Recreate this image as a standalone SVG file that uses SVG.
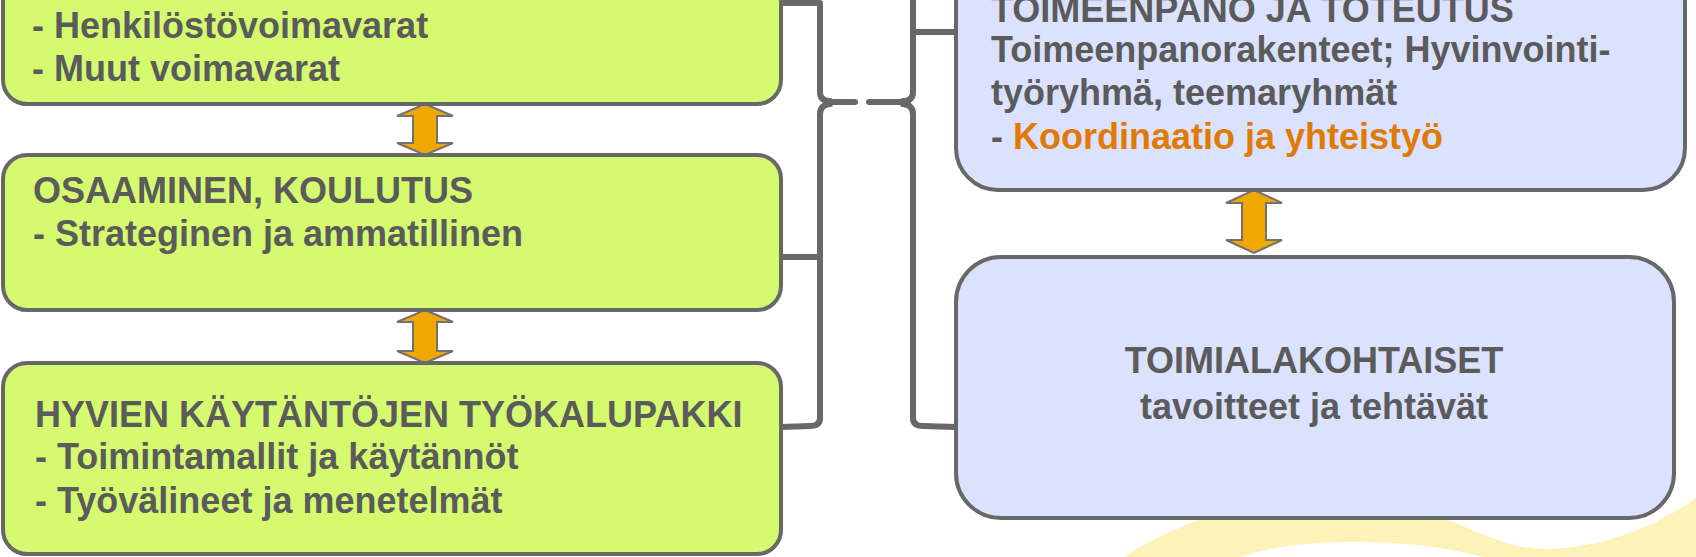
<svg xmlns="http://www.w3.org/2000/svg" width="1696" height="557" viewBox="0 0 1696 557">
<style>
.g{fill:#D5F96F;stroke:#686868;stroke-width:4}
.b{fill:#DBE2FD;stroke:#686868;stroke-width:4}
.t{font-family:"Liberation Sans",Arial,sans-serif;font-weight:bold;font-size:36px;fill:#5B5B5B}
.o{fill:#E07A05}
.arr{fill:#F0A800;stroke:#727272;stroke-width:2;stroke-linejoin:miter}
.br{fill:none;stroke:#686868;stroke-width:6;stroke-linecap:round;stroke-linejoin:round}
</style>
<rect width="1696" height="557" fill="#FFFFFF"/>
<g id="swoosh">
<path d="M1124,557 C1150,540 1180,526 1210,516 L1440,516 C1480,533 1510,549 1545,549 C1600,548 1650,530 1696,498 L1696,557 L1484,557 C1440,546 1400,541 1346,542 C1300,543 1265,548 1240,557 Z" fill="#FDF3B9"/>
</g>
<g id="connectors">
<path class="br" d="M781,3 H820 V92 Q820,101 830,101"/>
<path class="br" d="M826,102 H855"/>
<path class="br" d="M830,104 Q820,105 820,114 V418 Q820,426 810,426 L781,427"/>
<path class="br" d="M781,257 H820"/>
<path class="br" d="M869,102 H908"/>
<path class="br" d="M913,0 V92 Q913,101 903,101"/>
<path class="br" d="M903,104 Q913,105 913,114 V418 Q913,426 923,426 L956,427"/>
<path class="br" d="M913,32 H956"/>
<polygon class="arr" points="425,104 453,116 437,116 437,143 453,143 425,155 397,143 413,143 413,116 397,116"/>
<polygon class="arr" points="425,310 453,322 437,322 437,351 453,351 425,363 397,351 413,351 413,322 397,322"/>
<polygon class="arr" points="1254,190 1282,203 1266,203 1266,240 1282,240 1254,253 1226,240 1242,240 1242,203 1226,203"/>
</g>
<g id="node-voimavarat">
<rect class="g" x="3" y="-40" width="778" height="144" rx="24"/>
<text class="t" x="32" y="38">- Henkilöstövoimavarat</text>
<text class="t" x="32" y="81">- Muut voimavarat</text>
</g>
<g id="node-osaaminen">
<rect class="g" x="3" y="155" width="778" height="155" rx="24"/>
<text class="t" x="33" y="203">OSAAMINEN, KOULUTUS</text>
<text class="t" x="33" y="246">- Strateginen ja ammatillinen</text>
</g>
<g id="node-tyokalupakki">
<rect class="g" x="3" y="363" width="778" height="191" rx="24"/>
<text class="t" x="35" y="427">HYVIEN KÄYTÄNTÖJEN TYÖKALUPAKKI</text>
<text class="t" x="35" y="469">- Toimintamallit ja käytännöt</text>
<text class="t" x="35" y="513">- Työvälineet ja menetelmät</text>
</g>
<g id="node-toimeenpano">
<rect class="b" x="956" y="-40" width="729" height="230" rx="42"/>
<text class="t" x="991" y="22">TOIMEENPANO JA TOTEUTUS</text>
<text class="t" x="991" y="62">Toimeenpanorakenteet; Hyvinvointi-</text>
<text class="t" x="991" y="105">työryhmä, teemaryhmät</text>
<text class="t" x="991" y="149">- <tspan class="o">Koordinaatio ja yhteistyö</tspan></text>
</g>
<g id="node-toimialakohtaiset">
<rect class="b" x="956" y="257" width="718" height="261" rx="45"/>
<text class="t" x="1314" y="373" text-anchor="middle">TOIMIALAKOHTAISET</text>
<text class="t" x="1314" y="419" text-anchor="middle">tavoitteet ja tehtävät</text>
</g>
</svg>
